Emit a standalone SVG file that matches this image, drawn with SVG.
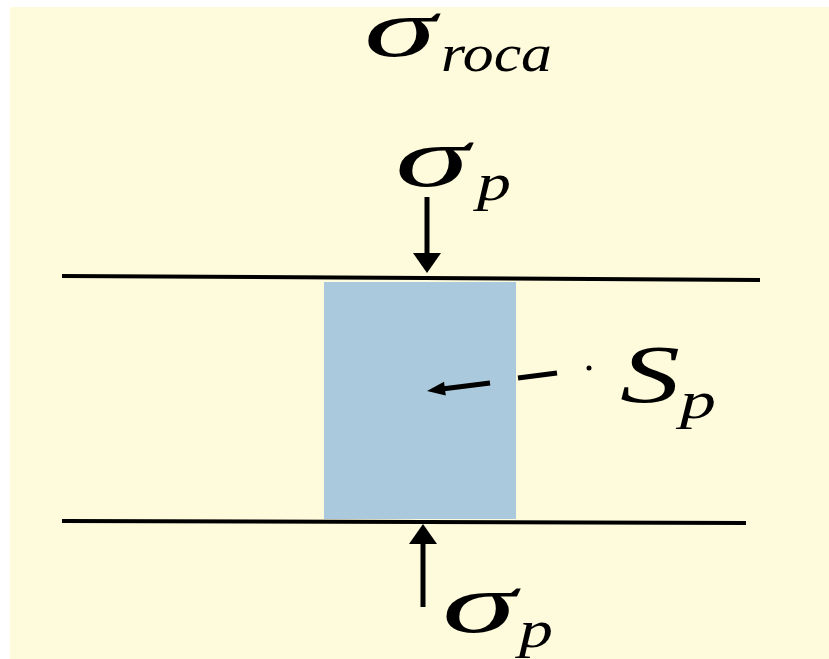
<svg xmlns="http://www.w3.org/2000/svg" width="829" height="659" viewBox="0 0 829 659">
<style>
.ln{stroke:#000;stroke-width:4;fill:none}
.sh{stroke:#000;stroke-width:5;fill:none}
.t{font-family:'Liberation Serif','Times New Roman',serif;font-style:italic;fill:#000}
</style>
<rect x="0" y="0" width="829" height="659" fill="#ffffff"/>
<rect x="10" y="7" width="819" height="652" fill="#FEFADC"/>
<g id="rock-label">
<text class="t" x="364" y="56" font-size="82" textLength="72" lengthAdjust="spacingAndGlyphs">σ</text>
<text class="t" x="441" y="71" font-size="52" textLength="111" lengthAdjust="spacingAndGlyphs">roca</text>
</g>
<g id="top-sigma">
<text class="t" x="395" y="186" font-size="84" textLength="74" lengthAdjust="spacingAndGlyphs">σ</text>
<text class="t" x="477" y="200" font-size="52" textLength="34" lengthAdjust="spacingAndGlyphs">p</text>
</g>
<g id="sp-label">
<text class="t" x="620" y="402" font-size="82" textLength="60" lengthAdjust="spacingAndGlyphs">S</text>
<text class="t" x="680" y="418" font-size="52" textLength="36" lengthAdjust="spacingAndGlyphs">p</text>
</g>
<g id="bottom-sigma">
<text class="t" x="442" y="632" font-size="84" textLength="74" lengthAdjust="spacingAndGlyphs">σ</text>
<text class="t" x="519" y="647" font-size="52" textLength="34" lengthAdjust="spacingAndGlyphs">p</text>
</g>
<g id="pillar">
<rect x="324" y="282" width="192" height="237" fill="#AAC9DC"/>
</g>
<g id="connectors">
<line class="ln" x1="62" y1="276" x2="760" y2="280"/>
<line class="ln" x1="62" y1="521" x2="746" y2="523"/>
<line class="sh" x1="427" y1="197" x2="427" y2="256"/>
<polygon points="413,253 441,253 427,273" fill="#000"/>
<line class="sh" x1="423" y1="541" x2="423" y2="607"/>
<polygon points="409,544 437,544 423,524" fill="#000"/>
<line class="sh" x1="490" y1="383" x2="442" y2="389"/>
<polygon points="427,391 445.8,395.6 444,381.8" fill="#000"/>
<line class="sh" x1="518" y1="378" x2="557" y2="373"/>
<circle cx="589" cy="368" r="2.5" fill="#000"/>
</g>
</svg>
